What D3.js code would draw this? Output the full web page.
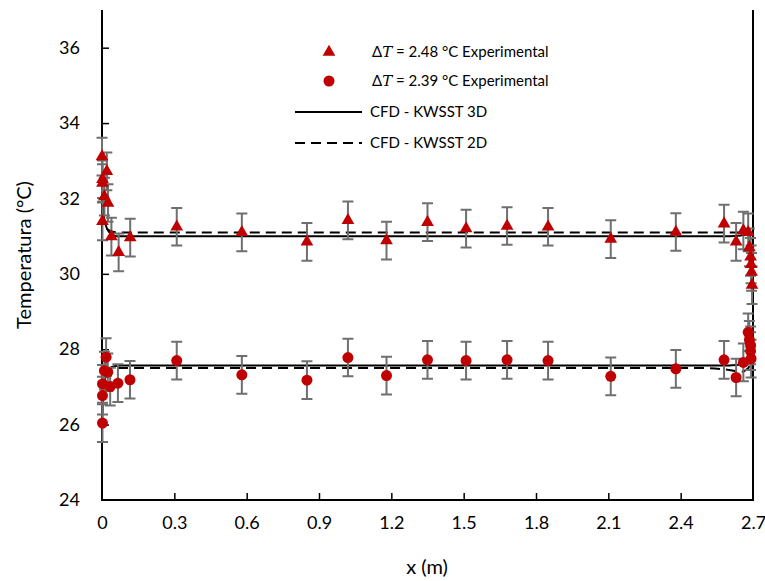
<!DOCTYPE html>
<html>
<head>
<meta charset="utf-8">
<script src="https://cdn.jsdelivr.net/npm/d3@7"></script>
<style>
  body { margin: 0; background: #fff; }
  svg text { font-family: Lato, "Open Sans", sans-serif; fill: #000; }
</style>
</head>
<body>
<svg id="chart"></svg>
<script>
// measured points, dT = 2.48 (triangles)
var triX = [0, 0.02, 0.002, 0.002, 0.01, 0.025, 0.002, 0.039, 0.069, 0.117,
            0.31, 0.58, 0.85, 1.02, 1.18, 1.35, 1.51, 1.68, 1.85, 2.11, 2.38,
            2.58, 2.63, 2.66, 2.68, 2.685, 2.69, 2.692, 2.694, 2.696];
var triT = [33.11, 32.72, 32.51, 32.41, 32.05, 31.88, 31.39, 30.99, 30.57, 30.96,
            31.25, 31.1, 30.85, 31.42, 30.88, 31.37, 31.2, 31.27, 31.25, 30.92, 31.11,
            31.33, 30.85, 31.15, 31.1, 30.7, 30.45, 30.25, 30.05, 29.7];

// measured points, dT = 2.39 (circles)
var circX = [0.017, 0.01, 0.024, 0.002, 0.034, 0.066, 0.116, 0.002, 0.002,
             0.31, 0.58, 0.85, 1.02, 1.18, 1.35, 1.51, 1.68, 1.85, 2.11, 2.38,
             2.58, 2.63, 2.66, 2.68, 2.685, 2.69, 2.69, 2.692];
var circT = [27.79, 27.43, 27.39, 27.08, 27.01, 27.1, 27.19, 26.77, 26.04,
             27.7, 27.32, 27.18, 27.78, 27.3, 27.72, 27.7, 27.72, 27.7, 27.28, 27.48,
             27.72, 27.25, 27.65, 28.45, 28.25, 28.1, 27.95, 27.75];

var errBar = 0.5;

// CFD profiles
var kw3dUpX = [0, 0.003, 0.008, 0.015, 0.025, 0.04, 0.06, 0.1, 2.6, 2.65, 2.675, 2.685, 2.692, 2.697, 2.7];
var kw3dUpT = [32.0, 31.8, 31.5, 31.3, 31.15, 31.05, 31.0, 31.0, 31.0, 31.02, 31.08, 31.0, 30.6, 30.2, 29.8];
var kw2dUpX = [0, 0.01, 0.03, 0.06, 2.6, 2.66, 2.685, 2.695, 2.7];
var kw2dUpT = [31.6, 31.3, 31.15, 31.1, 31.1, 31.1, 31.05, 30.6, 30.0];
var kw3dLoX = [0, 0.003, 0.008, 0.015, 0.03, 0.05, 0.08, 2.6, 2.66, 2.68, 2.69, 2.7];
var kw3dLoT = [26.0, 26.5, 27.0, 27.3, 27.48, 27.55, 27.57, 27.57, 27.6, 27.7, 28.0, 28.3];
var kw2dLoX = [0, 0.01, 0.03, 0.06, 2.5, 2.6, 2.65, 2.68, 2.7];
var kw2dLoT = [26.9, 27.3, 27.45, 27.5, 27.5, 27.45, 27.4, 27.5, 27.9];

var xTicks = [0, 0.3, 0.6, 0.9, 1.2, 1.5, 1.8, 2.1, 2.4, 2.7];
var yTicks = [24, 26, 28, 30, 32, 34, 36];

var width = 765, height = 581;
var red = "#c00000", barCol = "#6f6f6f";

var svg = d3.select("#chart").attr("width", width).attr("height", height);

var x = d3.scaleLinear().domain([0, 2.7]).range([102, 753]);
var y = d3.scaleLinear().domain([24, 37]).range([500, 10]);

// axes: ticks point inward
var xAxis = d3.axisBottom(x).tickValues(xTicks).tickSize(-7).tickPadding(16)
    .tickFormat(function(d) { return d === 0 ? "0" : d3.format(".1f")(d); });
var yAxis = d3.axisLeft(y).tickValues(yTicks).tickSize(-7).tickPadding(22);

var gx = svg.append("g").attr("transform", "translate(0,500)").call(xAxis);
var gy = svg.append("g").attr("transform", "translate(102,0)").call(yAxis);
[gx, gy].forEach(function(g) {
    g.select(".domain").remove();
    g.selectAll(".tick line").attr("stroke", "#000").attr("stroke-width", 1.5);
    g.selectAll(".tick text").attr("font-size", 18).attr("fill", "#000");
});
gx.selectAll(".tick").filter(function(d) { return d === 0 || d === 2.7; }).select("line").remove();
gy.selectAll(".tick").filter(function(d) { return d === 24; }).select("line").remove();

// frame (left, bottom, right)
svg.append("path")
    .attr("d", "M" + x(0) + "," + y(37) + "V" + y(24) + "H" + x(2.7) + "V" + y(37))
    .attr("fill", "none").attr("stroke", "#000").attr("stroke-width", 2);

// CFD lines
var line = d3.line().x(function(d) { return x(d[0]); }).y(function(d) { return y(d[1]); })
    .curve(d3.curveMonotoneX);
function drawLine(xs, ts, dashed) {
    svg.append("path")
        .attr("d", line(d3.zip(xs, ts)))
        .attr("fill", "none").attr("stroke", "#000").attr("stroke-width", 2)
        .attr("stroke-dasharray", dashed ? "10,6" : null);
}
drawLine(kw3dUpX, kw3dUpT, false);
drawLine(kw2dUpX, kw2dUpT, true);
drawLine(kw3dLoX, kw3dLoT, false);
drawLine(kw2dLoX, kw2dLoT, true);

// error bars
function drawBars(xs, ts) {
    var g = svg.append("g").attr("stroke", barCol).attr("stroke-width", 2).attr("fill", "none");
    xs.forEach(function(xv, i) {
        var px = x(xv), y1 = y(ts[i] + errBar), y2 = y(ts[i] - errBar);
        g.append("path").attr("d", "M" + px + "," + y1 + "V" + y2 +
            "M" + (px - 5.5) + "," + y1 + "H" + (px + 5.5) +
            "M" + (px - 5.5) + "," + y2 + "H" + (px + 5.5));
    });
}
drawBars(triX, triT);
drawBars(circX, circT);

// markers
var tri = d3.symbol().type(d3.symbolTriangle).size(70);
svg.append("g").selectAll("path").data(d3.zip(triX, triT)).join("path")
    .attr("d", tri)
    .attr("transform", function(d) { return "translate(" + x(d[0]) + "," + y(d[1]) + ")"; })
    .attr("fill", red);
svg.append("g").selectAll("circle").data(d3.zip(circX, circT)).join("circle")
    .attr("cx", function(d) { return x(d[0]); })
    .attr("cy", function(d) { return y(d[1]); })
    .attr("r", 5.5).attr("fill", red);

// legend
var lg = svg.append("g").attr("font-size", 15);
lg.append("path").attr("d", tri).attr("transform", "translate(329,52)").attr("fill", red);
lg.append("circle").attr("cx", 329).attr("cy", 81).attr("r", 5.5).attr("fill", red);
lg.append("line").attr("x1", 295).attr("x2", 362).attr("y1", 112).attr("y2", 112)
    .attr("stroke", "#000").attr("stroke-width", 2);
lg.append("line").attr("x1", 295).attr("x2", 362).attr("y1", 143).attr("y2", 143)
    .attr("stroke", "#000").attr("stroke-width", 2).attr("stroke-dasharray", "10,6");
function dtLabel(yy, val) {
    var t = lg.append("text").attr("x", 372).attr("y", yy).attr("dy", "0.35em");
    t.append("tspan").text("\u0394");
    t.append("tspan").attr("font-style", "italic").attr("font-family", "'DejaVu Serif', serif").text("T");
    t.append("tspan").text(" = " + val + " \u00b0C Experimental");
}
dtLabel(52, "2.48");
dtLabel(81, "2.39");
lg.append("text").attr("x", 370).attr("y", 112).attr("dy", "0.35em").text("CFD - KWSST 3D");
lg.append("text").attr("x", 370).attr("y", 143).attr("dy", "0.35em").text("CFD - KWSST 2D");

// axis titles
svg.append("text").attr("x", 427).attr("y", 574).attr("text-anchor", "middle")
    .attr("font-size", 20).text("x (m)");
svg.append("text").attr("transform", "translate(31,255) rotate(-90)").attr("text-anchor", "middle")
    .attr("font-size", 20).text("Temperatura  (\u00b0C)");
</script>
</body>
</html>
